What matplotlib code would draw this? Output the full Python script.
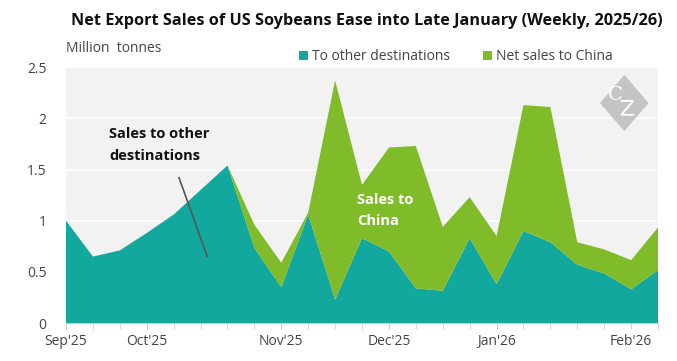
import matplotlib.pyplot as plt
import matplotlib.patches as mpatches
import numpy as np

plt.rcParams['font.family'] = ['Open Sans', 'DejaVu Sans']

# weekly net sales, million tonnes
other = [1.00, 0.65, 0.71, 0.88, 1.06, 1.30, 1.54, 0.735, 0.35, 1.06, 0.23,
         0.83, 0.70, 0.34, 0.315, 0.83, 0.38, 0.90, 0.79, 0.57, 0.485, 0.33, 0.52]
total = [1.00, 0.65, 0.71, 0.88, 1.06, 1.30, 1.54, 0.96, 0.59, 1.08, 2.37,
         1.35, 1.715, 1.73, 0.94, 1.23, 0.85, 2.13, 2.11, 0.79, 0.72, 0.615, 0.935]
china = [t - o for t, o in zip(total, other)]

month_pos = [0, 3, 8, 12, 16, 21]
month_labels = ["Sep'25", "Oct'25", "Nov'25", "Dec'25", "Jan'26", "Feb'26"]

teal = '#13A89E'
green = '#80BC29'

fig = plt.figure(figsize=(6.77, 3.61), dpi=100)
ax = fig.add_axes([0.0975, 0.105, 0.8745, 0.709])
ax.set_facecolor('#F2F2F2')

x = np.arange(len(other))
ax.stackplot(x, other, china, colors=[teal, green], linewidth=0,
             labels=['To other destinations', 'Net sales to China'], zorder=3)

ax.set_xlim(0, len(other) - 1)
ax.set_ylim(0, 2.5)
ax.set_yticks([0, 0.5, 1, 1.5, 2, 2.5])
ax.set_yticklabels(['0', '0.5', '1', '1.5', '2', '2.5'])
ax.grid(axis='y', color='white', linewidth=1.2, zorder=1)
ax.set_axisbelow(True)

ax.set_xticks(x, minor=True)
ax.set_xticks(month_pos)
ax.set_xticklabels(month_labels)
ax.tick_params(axis='x', which='both', length=4, color='#CCCCCC', labelsize=10,
               labelcolor='#444444', pad=4)
ax.tick_params(axis='y', length=0, labelsize=10, labelcolor='#444444', pad=14)
for s in ['top', 'right', 'left']:
    ax.spines[s].set_visible(False)
ax.spines['bottom'].set_color('#CCCCCC')
ax.spines['bottom'].set_zorder(4)

fig.text(0.542, 0.943, 'Net Export Sales of US Soybeans Ease into Late January (Weekly, 2025/26)',
         ha='center', va='center', fontsize=11.7, fontweight='bold', color='#111111')
fig.text(0.0975, 0.865, 'Million  tonnes', ha='left', va='center', fontsize=10, color='#444444')

leg = ax.legend(loc='lower left', bbox_to_anchor=(0.385, 0.99), ncol=2, frameon=False,
                fontsize=10, handlelength=0.6, handleheight=0.6, handletextpad=0.3,
                columnspacing=2.4, borderaxespad=0)
for t in leg.get_texts():
    t.set_color('#444444')

ax.text(1.6, 1.74, 'Sales to other\ndestinations', fontsize=10.5, fontweight='bold',
        color='#111111', va='center', ha='left', linespacing=1.65, zorder=5)
ax.plot([4.2, 5.25], [1.42, 0.65], color='#555555', linewidth=1.2, zorder=5)
ax.text(10.8, 1.1, 'Sales to\nChina', fontsize=10.5, fontweight='bold',
        color='white', va='center', ha='left', linespacing=1.65, zorder=5)

# watermark logo
cx, cy = 0.943, 0.86
diamond = mpatches.Polygon([[cx, cy + 0.11], [cx + 0.041, cy], [cx, cy - 0.11],
                            [cx - 0.041, cy]], closed=True, transform=ax.transAxes,
                           facecolor='#C4C4C4', edgecolor='none', zorder=2)
ax.add_patch(diamond)
ax.text(0.927, 0.893, 'C', transform=ax.transAxes, fontsize=14, family='DejaVu Serif',
        color='white', ha='center', va='center', zorder=2)
ax.plot([0.938, 0.958, 0.938, 0.958], [0.868, 0.868, 0.814, 0.814], color='white',
        linewidth=1.3, transform=ax.transAxes, zorder=2, solid_joinstyle='miter')

fig.savefig('out.png', dpi=100)
